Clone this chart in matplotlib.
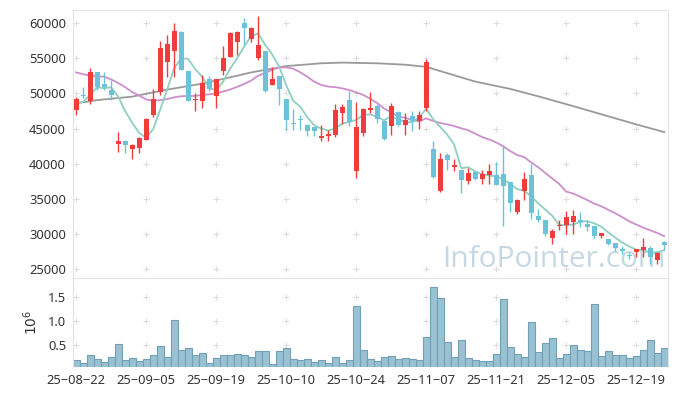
import numpy as np
import pandas as pd
import matplotlib
matplotlib.use('Agg')
import matplotlib.pyplot as plt

plt.rcParams['font.family'] = ['Noto Sans', 'DejaVu Sans']

# daily candles (85 trading days), price in KRW
open_ = [47700, 49800, 48950, 53050, 51400, 50550, 42800, 43200, 42100, 42250,
         43400, 46950, 50150, 54500, 56100, 58750, 53200, 49050, 48950, 52000,
         49650, 53250, 55250, 57400, 60000, 57700, 55000, 56050, 51150, 52500,
         49200, 45800, 46350, 45450, 45250, 43650, 43950, 44150, 47250, 49050,
         38950, 44400, 47600, 48200, 46050, 45400, 47400, 45550, 46750, 46100,
         47950, 42150, 36100, 41300, 39500, 39050, 37500, 38800, 37750, 38400,
         38400, 38550, 37400, 33100, 36100, 38450, 32600, 31900, 29450, 31100,
         31300, 31650, 32000, 31400, 31050, 29750, 29300, 28650, 27850, 26950,
         27400, 27750, 27950, 26200, 28900]
high = [49500, 50900, 53600, 53100, 53100, 51900, 44550, 43350, 42800, 43850,
        46450, 50700, 57450, 58300, 60000, 58900, 53250, 50000, 52650, 52450,
        52100, 56750, 58700, 58950, 60700, 59500, 61000, 56100, 53800, 52550,
        49250, 47850, 46900, 45700, 45250, 45550, 44850, 48500, 48500, 50400,
        48800, 47900, 50250, 48550, 46100, 48700, 47450, 47150, 47450, 47450,
        54850, 43250, 41550, 41500, 40700, 39100, 39400, 38850, 39050, 40000,
        40250, 42600, 37450, 35000, 38800, 40000, 33550, 31950, 30700, 31900,
        33300, 33350, 33100, 32000, 31050, 30150, 29300, 28700, 28200, 27400,
        27900, 29450, 28200, 27400, 28950]
low = [47000, 49300, 48500, 50500, 50500, 49050, 41700, 41550, 40600, 41550,
       43350, 46600, 49850, 52400, 52400, 53300, 48900, 47500, 48000, 50350,
       48000, 52650, 55200, 55500, 56900, 57400, 54750, 50250, 51150, 48350,
       44850, 44850, 44850, 43900, 43900, 43200, 43200, 43800, 45600, 45400,
       38000, 43900, 47150, 45800, 43350, 44150, 45350, 44150, 44600, 44900,
       47500, 37950, 35950, 39050, 38950, 35850, 37150, 37600, 37150, 37150,
       36900, 31050, 33100, 32850, 34750, 32150, 31650, 29750, 28550, 30500,
       30000, 30000, 30950, 30400, 29450, 29450, 28350, 27600, 27050, 26450,
       26650, 26650, 25700, 25700, 27700]
close = [49200, 49650, 53050, 50950, 50950, 49750, 43200, 42650, 42650, 43700,
         46350, 49200, 56450, 57050, 58900, 53350, 48950, 49200, 51550, 50700,
         52000, 55000, 58550, 58700, 59300, 59300, 56900, 50400, 52000, 50600,
         46200, 45650, 46200, 44650, 44650, 43900, 44200, 47600, 48100, 45950,
         45250, 47850, 47950, 46300, 43500, 48200, 45500, 46200, 46050, 46900,
         54450, 38100, 40700, 40550, 39850, 37600, 38700, 37750, 38550, 38900,
         37000, 36800, 34400, 34750, 37750, 32950, 31900, 30000, 30350, 31250,
         32450, 32600, 31750, 30950, 29750, 30100, 28550, 27950, 27500, 26850,
         27850, 28100, 26650, 27250, 28450]
volume = [180000, 120000, 280000, 200000, 140000, 240000, 510000, 180000, 220000, 160000,
          200000, 290000, 470000, 240000, 1030000, 390000, 430000, 290000, 330000, 120000,
          220000, 290000, 290000, 310000, 290000, 240000, 370000, 370000, 100000, 370000,
          430000, 200000, 180000, 200000, 140000, 180000, 120000, 240000, 120000, 190000,
          1310000, 390000, 200000, 160000, 240000, 260000, 200000, 220000, 200000, 180000,
          660000, 1720000, 1490000, 560000, 240000, 600000, 220000, 180000, 160000, 160000,
          310000, 1450000, 450000, 310000, 240000, 970000, 350000, 540000, 640000, 220000,
          310000, 490000, 390000, 370000, 1350000, 260000, 370000, 290000, 290000, 220000,
          260000, 390000, 600000, 330000, 430000]

# closes before the first visible day (for the 5-day average)
prev_close = [48650, 48050, 45600, 51500]
# 20-day average over the first 19 days (window starts before the chart)
ma20_head = [53000, 52750, 52550, 52450, 52400, 52000, 51500, 50900, 50200, 49700,
             49150, 48950, 49050, 49200, 49450, 49600, 49650, 49650, 49800]
# long moving average
ma_long_idx = [0, 3, 8, 13, 18, 22, 25, 30, 35, 38, 43, 47, 50, 53, 57, 62, 66, 71, 76, 80, 84]
ma_long_val = [48600, 49050, 49550, 50550, 51400, 52300, 53000, 53900, 54300, 54400, 54300,
               54100, 53800, 52900, 51700, 50650, 49600, 48200, 46750, 45600, 44500]

# the chart's font draws the date separator as a long dash
tick_labels = ['25−08−22', '25−09−05', '25−09−19', '25−10−10', '25−10−24',
               '25−11−07', '25−11−21', '25−12−05', '25−12−19']

up_color = '#f03c3c'
down_color = '#6cc3d8'

df = pd.DataFrame({'open': open_, 'high': high, 'low': low, 'close': close, 'volume': volume})
x = np.arange(len(df))
ma5 = pd.Series(prev_close + close).rolling(5).mean().to_numpy()[len(prev_close):]
ma20 = pd.Series(close).rolling(20).mean().to_numpy()
ma20[:len(ma20_head)] = ma20_head

fig = plt.figure(figsize=(6.77, 3.96), dpi=100)
ax = fig.add_axes([0.1078, 0.298, 0.8789, 0.6768])
axv = fig.add_axes([0.1078, 0.0732, 0.8789, 0.2248], sharex=ax)

# moving averages under the candles
ax.plot(ma_long_idx, ma_long_val, color='#9a9a9a', lw=1.3, zorder=1)
ax.plot(x, ma20, color='#cc8fcc', lw=1.3, zorder=1)
ax.plot(x, ma5, color='#8fcfc2', lw=1.3, zorder=1)

up = df['close'] >= df['open']
colors = np.where(up, up_color, down_color)
ax.vlines(x, df['low'], df['high'], colors=colors, lw=1.0, zorder=2)
body_low = np.minimum(df['open'], df['close'])
body_h = np.maximum((df['close'] - df['open']).abs(), 130)
ax.bar(x, body_h, bottom=body_low, width=0.72, color=colors, lw=0, zorder=3)

axv.bar(x, df['volume'] / 1e6, width=1.0, color='#9ac1d2', edgecolor='#70a0b8', lw=0.8)

yticks = np.arange(25000, 60001, 5000)
xticks = np.arange(0, len(df), 10)
vticks = [0.5, 1.0, 1.5]

ax.set_xlim(-0.45, 84.55)
ax.set_ylim(23700, 61900)
axv.set_ylim(0.036, 1.9)
ax.set_yticks(yticks)
axv.set_yticks(vticks)
axv.set_xticks(xticks)
axv.set_xticklabels(tick_labels)
ax.tick_params(labelbottom=False)

# little "+" marks where grid lines would cross
gx, gy = np.meshgrid(xticks, yticks)
ax.plot(gx.ravel(), gy.ravel(), ls='none', marker='+', ms=5, mew=0.8, color='#dddddd', zorder=0)
gx, gy = np.meshgrid(xticks, vticks)
axv.plot(gx.ravel(), gy.ravel(), ls='none', marker='+', ms=5, mew=0.8, color='#dddddd', zorder=0)

for a in (ax, axv):
    a.tick_params(length=0, labelsize=9.3, labelcolor='#333333', pad=5)
    for s in a.spines.values():
        s.set_color('#e4e4e4')
axv.spines['bottom'].set_visible(False)

axv.set_ylabel(r'$10^{6}$', fontsize=10, color='#333333')
axv.yaxis.set_label_coords(-0.054, 0.5)

# watermark sits under the candles
ax.text(0.62, 0.042, 'InfoPointer.com', transform=ax.transAxes, fontsize=21.5,
        family='Open Sans', color='#c6d9e3', va='baseline', ha='left', zorder=0.5, clip_on=True)

fig.savefig('out.png', dpi=100)
